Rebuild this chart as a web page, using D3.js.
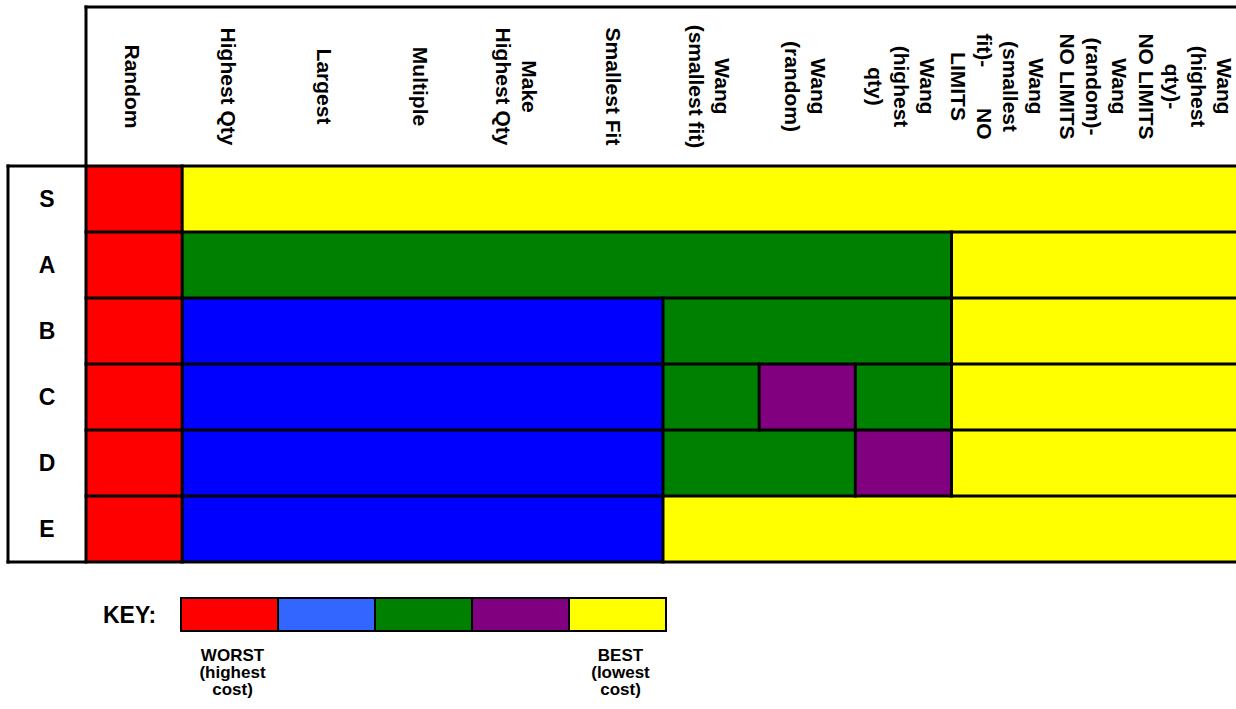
<!DOCTYPE html>
<html>
<head>
<meta charset="utf-8">
<script src="https://cdn.jsdelivr.net/npm/d3@7"></script>
<style>
    body { margin: 0; background: #fff; }
    svg { display: block; font-family: "Liberation Sans", Arial, sans-serif; font-weight: bold; }
</style>
</head>
<body>
<svg width="1236" height="709"></svg>
<script>
// column headers, one string per column, lines split by "\n"
var columns = [
    "Random",
    "Highest Qty",
    "Largest",
    "Multiple",
    "Make\nHighest Qty",
    "Smallest Fit",
    "Wang\n(smallest fit)",
    "Wang\n(random)",
    "Wang\n(highest\nqty)",
    "Wang\n(smallest\nfit)-\u00a0\u00a0\u00a0\u00a0\u00a0\u00a0\u00a0NO\nLIMITS",
    "Wang\n(random)-\nNO LIMITS",
    "Wang\n(highest\nqty)-\nNO LIMITS"
];
var rows = ["S", "A", "B", "C", "D", "E"];

// rank of each cell: 0 = worst (highest cost) ... 4 = best (lowest cost)
var scoreS = [0, 4, 4, 4, 4, 4, 4, 4, 4, 4, 4, 4];
var scoreA = [0, 2, 2, 2, 2, 2, 2, 2, 2, 4, 4, 4];
var scoreB = [0, 1, 1, 1, 1, 1, 2, 2, 2, 4, 4, 4];
var scoreC = [0, 1, 1, 1, 1, 1, 2, 3, 2, 4, 4, 4];
var scoreD = [0, 1, 1, 1, 1, 1, 2, 2, 3, 4, 4, 4];
var scoreE = [0, 1, 1, 1, 1, 1, 4, 4, 4, 4, 4, 4];
var scores = [scoreS, scoreA, scoreB, scoreC, scoreD, scoreE];

var ranks = [0, 1, 2, 3, 4];
var cellColors = ["#ff0000", "#0000ff", "#008000", "#800080", "#ffff00"];
var keyColors = ["#ff0000", "#3366ff", "#008000", "#800080", "#ffff00"];
var keyLabels = ["WORST\n(highest\ncost)", "", "", "", "BEST\n(lowest\ncost)"];

window.onload = main;

function main() {
    var svg = d3.select("svg");
    var W = 1236;

    var x = d3.scaleBand().domain(d3.range(columns.length)).range([86, 1240]);
    var y = d3.scaleBand().domain(rows).range([166, 562]);
    var fill = d3.scaleOrdinal().domain(ranks).range(cellColors);
    var keyFill = d3.scaleOrdinal().domain(ranks).range(keyColors);

    var headTop = 7,
        labelLeft = 8,
        lw = 3;

    // merge runs of equal rank in a row into one block (no seams)
    var blocks = [];
    scores.forEach(function (r, i) {
        var start = 0;
        for (var j = 1; j <= r.length; j++) {
            if (j == r.length || r[j] != r[start]) {
                blocks.push({ row: rows[i], start: start, end: j - 1, v: r[start] });
                start = j;
            }
        }
    });
    svg.append("g")
        .selectAll("rect")
        .data(blocks)
        .enter()
        .append("rect")
        .attr("x", (d) => x(d.start))
        .attr("y", (d) => y(d.row))
        .attr("width", (d) => x(d.end) + x.bandwidth() - x(d.start))
        .attr("height", y.bandwidth())
        .attr("fill", (d) => fill(d.v));

    // column headers (rotated), kept inside the window on the right
    var lh = 26;
    var heads = svg.append("g")
        .selectAll("text")
        .data(columns)
        .enter()
        .append("text")
        .attr("font-size", "21px")
        .attr("text-anchor", "middle")
        .attr("transform", function (d, i) {
            var n = d.split("\n").length;
            var half = ((n - 1) / 2) * lh + 9;
            var cx = Math.min(x(i) + x.bandwidth() / 2 - 2, W - 3 - half);
            return "translate(" + cx + "," + (headTop + 166) / 2 + ") rotate(90)";
        });
    heads.each(function (d) {
        var lines = d.split("\n");
        var t = d3.select(this);
        lines.forEach(function (l, k) {
            t.append("tspan")
                .attr("x", 0)
                .attr("y", (k - (lines.length - 1) / 2) * lh)
                .attr("dy", "0.35em")
                .text(l);
        });
    });

    // row labels
    svg.append("g")
        .selectAll("text")
        .data(rows)
        .enter()
        .append("text")
        .attr("x", (labelLeft + x(0)) / 2)
        .attr("y", (d) => y(d) + y.bandwidth() / 2)
        .attr("dy", "0.36em")
        .attr("font-size", "23px")
        .attr("text-anchor", "middle")
        .text((d) => d);

    // grid lines: between rows everywhere, between columns only where colour changes
    var segs = [];
    segs.push([x(0), headTop, W, headTop]);
    segs.push([x(0), headTop, x(0), y.range()[1]]);
    segs.push([labelLeft, 166, W, 166]);
    segs.push([labelLeft, y.range()[1], W, y.range()[1]]);
    segs.push([labelLeft, 166, labelLeft, y.range()[1]]);
    rows.slice(1).forEach(function (r) {
        segs.push([x(0), y(r), W, y(r)]);
    });
    blocks.forEach(function (b) {
        if (b.start > 0) segs.push([x(b.start), y(b.row), x(b.start), y(b.row) + y.bandwidth()]);
    });
    svg.append("g")
        .selectAll("line")
        .data(segs)
        .enter()
        .append("line")
        .attr("x1", (d) => d[0])
        .attr("y1", (d) => d[1])
        .attr("x2", (d) => d[2])
        .attr("y2", (d) => d[3])
        .attr("stroke", "#000")
        .attr("stroke-width", lw)
        .attr("stroke-linecap", "square");

    // key
    var kx = d3.scaleBand().domain(ranks).range([181, 666]);
    var key = svg.append("g").attr("id", "key");
    key.append("text")
        .attr("x", 103)
        .attr("y", 623)
        .attr("font-size", "23px")
        .text("KEY:");
    key.selectAll("rect")
        .data(ranks)
        .enter()
        .append("rect")
        .attr("x", (d) => kx(d))
        .attr("y", 598)
        .attr("width", kx.bandwidth())
        .attr("height", 33)
        .attr("fill", (d) => keyFill(d))
        .attr("stroke", "#000")
        .attr("stroke-width", 2);
    key.selectAll("text.lab")
        .data(keyLabels)
        .enter()
        .append("text")
        .attr("class", "lab")
        .attr("font-size", "17px")
        .attr("text-anchor", "middle")
        .each(function (d, i) {
            var t = d3.select(this);
            d.split("\n").forEach(function (l, k) {
                t.append("tspan")
                    .attr("x", kx(i) + kx.bandwidth() / 2 + 3)
                    .attr("y", 661 + k * 17)
                    .text(l);
            });
        });
}
</script>
</body>
</html>
